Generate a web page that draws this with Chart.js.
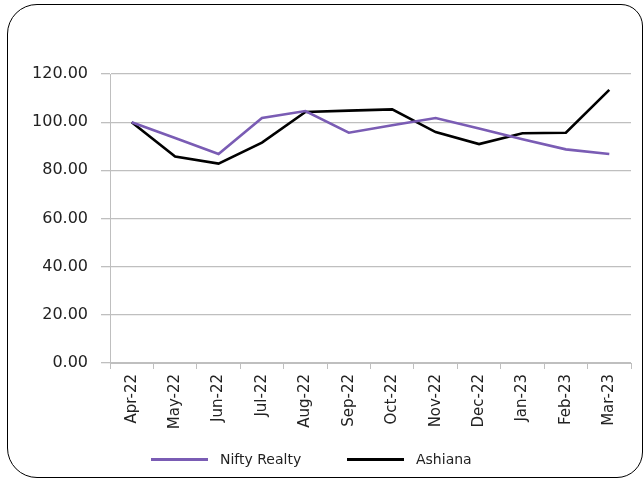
<!DOCTYPE html>
<html>
<head>
<meta charset="utf-8">
<script src="https://cdn.jsdelivr.net/npm/chart.js@4"></script>
<style>
  html, body { margin: 0; padding: 0; background: #fff; }
  #frame {
    position: absolute; left: 7px; top: 4px; width: 634px; height: 472px;
    border: 1.6px solid #000; border-radius: 30px 22px 26px 30px;
  }
  #wrap { position: absolute; left: 0; top: 0; width: 644px; height: 480px; }
  #legend {
    position: absolute; left: 0; top: 449px; width: 644px; height: 20px;
    font: 14px 'DejaVu Sans', sans-serif; color: #222;
  }
  #legend .item { position: absolute; top: 0; height: 20px; line-height: 20px; }
  #legend .swatch { position: absolute; top: 9px; width: 57px; height: 2.6px; }
  #legend .label { position: absolute; left: 69px; white-space: nowrap; }
</style>
</head>
<body>
<div id="frame"></div>
<div id="wrap"><canvas id="chart" width="644" height="480"></canvas></div>
<div id="legend"></div>
<script>
// Monthly indexed performance (base = 100)
const months = ['Apr-22', 'May-22', 'Jun-22', 'Jul-22', 'Aug-22', 'Sep-22',
                'Oct-22', 'Nov-22', 'Dec-22', 'Jan-23', 'Feb-23', 'Mar-23'];
const niftyRealty = [100, 93.4, 86.8, 101.7, 104.6, 95.6, 98.7, 101.7, 97.4, 92.9, 88.7, 86.8];
const ashiana = [100, 85.7, 82.8, 91.5, 104.2, 104.8, 105.3, 95.9, 90.9, 95.4, 95.6, 113.4];
const yTicks = { min: 0, max: 120, step: 20 };

const font = 'DejaVu Sans';
const gridGrey = '#bfbfbf';

const chart = new Chart(document.getElementById('chart'), {
    type: 'line',
    data: {
        labels: months,
        datasets: [
            {
                label: 'Nifty Realty',
                data: niftyRealty,
                borderColor: '#7a5cb4',
                backgroundColor: '#7a5cb4',
                borderWidth: 2.6,
                pointRadius: 0,
                tension: 0,
            },
            {
                label: 'Ashiana',
                data: ashiana,
                borderColor: '#000000',
                backgroundColor: '#000000',
                borderWidth: 2.6,
                pointRadius: 0,
                tension: 0,
            },
        ],
    },
    options: {
        responsive: false,
        animation: false,
        layout: { padding: { left: 0, right: 13, top: 74, bottom: 45 } },
        plugins: {
            tooltip: { enabled: false },
            legend: { display: false },
        },
        scales: {
            x: {
                offset: true,
                afterFit: (scale) => { scale.height = Math.max(scale.height, 72); },
                grid: {
                    offset: true,
                    drawOnChartArea: false,
                    color: gridGrey,
                    tickLength: 6,
                },
                border: { color: gridGrey },
                ticks: {
                    minRotation: 90,
                    maxRotation: 90,
                    autoSkip: false,
                    color: '#222',
                    padding: 5,
                    font: { family: font, size: 15 },
                },
            },
            y: {
                min: yTicks.min,
                max: yTicks.max,
                afterFit: (scale) => { scale.width = 110; },
                grid: { color: gridGrey, tickLength: 9, lineWidth: 1.3 },
                border: { color: gridGrey },
                ticks: {
                    stepSize: yTicks.step,
                    color: '#222',
                    padding: 13,
                    font: { family: font, size: 16 },
                    callback: (v) => v.toFixed(2),
                },
            },
        },
    },
});

// HTML legend, built from the chart's datasets
const legendLeft = [151, 347];
const legendEl = document.getElementById('legend');
chart.data.datasets.forEach((ds, i) => {
    const item = document.createElement('div');
    item.className = 'item';
    item.style.left = legendLeft[i] + 'px';
    const sw = document.createElement('div');
    sw.className = 'swatch';
    sw.style.background = ds.borderColor;
    const lbl = document.createElement('span');
    lbl.className = 'label';
    lbl.textContent = ds.label;
    item.append(sw, lbl);
    legendEl.appendChild(item);
});
</script>
</body>
</html>
